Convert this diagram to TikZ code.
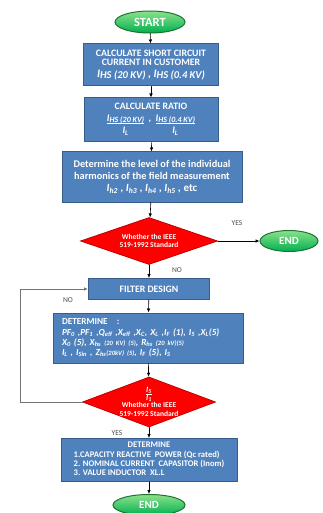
\documentclass[tikz,border=0pt]{standalone}
\usepackage{fontspec}
\setmainfont{Carlito}
\usepackage{tikz}
\usetikzlibrary{arrows.meta, shapes.geometric, calc}
\definecolor{flowBlue}{RGB}{79,129,189}
\definecolor{flowBlueEdge}{RGB}{56,93,138}
\definecolor{flowRed}{RGB}{255,0,0}
\definecolor{flowRedEdge}{RGB}{190,0,0}
\definecolor{flowGreen}{RGB}{0,176,80}
\definecolor{flowGreenTop}{RGB}{140,225,140}
\definecolor{flowGreenEdge}{RGB}{30,115,50}
\newcommand{\cur}[1]{I\textsubscript{#1}}
\newcommand{\ratiopart}[1]{\begin{tabular}[t]{@{}c@{}}
	{\itshape\fontsize{10}{11}\selectfont I\raisebox{-1pt}{\fontsize{8}{9}\selectfont #1}}\\[-1pt]\hline
	\rule{0pt}{10pt}{\itshape\fontsize{10}{11}\selectfont\cur{L}}\end{tabular}}

\tikzset{
	procbox/.style={rectangle, draw=flowBlueEdge, fill=flowBlue, line width=1pt, text=white,
		font=\bfseries\fontsize{9.8}{10.5}\selectfont, align=center, inner sep=2pt},
	decision/.style={diamond, draw=flowRedEdge, fill=flowRed, line width=0.8pt, inner sep=0pt},
	dtext/.style={text=white, font=\bfseries\fontsize{7.5}{8.5}\selectfont, align=center},
	terminal/.style={ellipse, draw=flowGreenEdge, top color=flowGreenTop, bottom color=flowGreen,
		line width=1pt, text=white, font=\bfseries\fontsize{11}{12}\selectfont, inner sep=0pt},
	flowline/.style={-{Latex[length=4pt,width=3.5pt]}, line width=0.6pt, black},
	tag/.style={font=\fontsize{7.5}{9}\selectfont, text=black!70}
}

\begin{document}
\begin{tikzpicture}[x=1pt, y=-1pt, line cap=round]
	\useasboundingbox (0,0) rectangle (323,513);

	\node[terminal, minimum width=70pt, minimum height=22pt, font=\bfseries\fontsize{12.5}{13}\selectfont] (start) at (150,22) {START};
	\node[procbox, minimum width=135pt, minimum height=42pt] (calc1) at (151,65)
		{CALCULATE SHORT CIRCUIT\\[-1pt] CURRENT IN CUSTOMER\\[1pt]
		{\itshape\fontsize{11.5}{12}\selectfont I\raisebox{-1.5pt}{\fontsize{10.5}{11}\selectfont HS (20 KV)} , I\raisebox{-1.5pt}{\fontsize{10.5}{11}\selectfont HS (0.4 KV)}}};
	\node[procbox, minimum width=134pt, minimum height=44pt] (ratio) at (151,120)
		{CALCULATE RATIO\\[1pt]
		\ratiopart{HS (20 KV)}\ \ ,\ \ \ratiopart{HS (0.4 KV)}};
	\node[procbox, minimum width=180pt, minimum height=50pt, font=\bfseries\fontsize{10.3}{11.5}\selectfont] (harm) at (152,177)
		{Determine the level of the individual\\ harmonics of the field measurement\\[1pt]
		{\itshape\fontsize{11}{12}\selectfont \cur{h2} , \cur{h3} , \cur{h4} , \cur{h5} , \upshape etc}};

	\node[decision, minimum width=137pt, minimum height=47pt,
		label={[dtext]center:Whether the IEEE\\ 519-1992 Standard}] (check1) at (149,241) {};
	\node[terminal, minimum width=58pt, minimum height=21pt] (endright) at (289,241) {END};

	\node[procbox, minimum width=121pt, minimum height=21pt] (filter) at (149,289) {FILTER DESIGN};
	\node[procbox, minimum width=190pt, minimum height=50pt, align=left, text width=172pt,
		font=\bfseries\fontsize{9.2}{10.2}\selectfont] (det) at (148,338)
		{DETERMINE \ \ :\\
		{\itshape PF\textsubscript{0} ,PF\textsubscript{1} ,Q\textsubscript{eff} ,X\textsubscript{eff} ,X\textsubscript{C}, X\textsubscript{L} ,\cur{F} (1), \cur{5} ,X\textsubscript{L}(5)}\\
		{\itshape X\textsubscript{0} (5), X\textsubscript{hs} {\fontsize{6.5}{7}\selectfont (20 KV) (5)}, R\textsubscript{hs} {\fontsize{6.5}{7}\selectfont (20 kV)(5)}}\\
		{\itshape \cur{L} , \cur{Sin} , Z\textsubscript{hs}{\fontsize{6.5}{7}\selectfont (20kV) (5)}, \cur{F} (5), \cur{S}}};

	\node[decision, minimum width=133pt, minimum height=50pt,
		label={[dtext]center:{\itshape\fontsize{8}{8}\selectfont $\frac{\mbox{\cur{5}}}{\mbox{\cur{1}}}$}\\[0pt] Whether the IEEE\\ 519-1992 Standard}] (check2) at (149,402) {};

	\node[procbox, minimum width=176pt, minimum height=43pt, font=\bfseries\fontsize{8.6}{9.4}\selectfont] (final) at (149,460)
		{\begin{tabular}{@{}l@{}}
		\multicolumn{1}{@{}c@{}}{DETERMINE}\\
		1.CAPACITY REACTIVE \ POWER (Qc rated)\\
		2. NOMINAL CURRENT \ CAPASITOR (Inom)\\
		3. VALUE INDUCTOR \ XL.L
		\end{tabular}};
	\node[terminal, minimum width=72pt, minimum height=21pt] (endbottom) at (149,505) {END};

	% connectors
	\draw[flowline] (start) -- (calc1);
	\draw[flowline] (calc1) -- (ratio);
	\draw[flowline] (ratio) -- (harm);
	\draw[flowline] (harm) -- (check1);
	\draw[flowline] (check1) -- (endright);
	\draw[flowline] (check1) -- (filter);
	\draw[flowline] (filter) -- (det);
	\draw[flowline] (det) -- (check2);
	\draw[flowline] (check2) -- (final);
	\draw[flowline] (final) -- (endbottom);
	\coordinate (loopcorner) at (20,402);
	\draw[flowline, draw=black!55, line width=0.9pt] (check2.west) -- (loopcorner) |- (filter.west);

	\node[tag] (yes1) at (237,223) {YES};
	\node[tag] (no1) at (177,270) {NO};
	\node[tag] (no2) at (68,300) {NO};
	\node[tag] (yes2) at (117,433) {YES};
\end{tikzpicture}
\end{document}
